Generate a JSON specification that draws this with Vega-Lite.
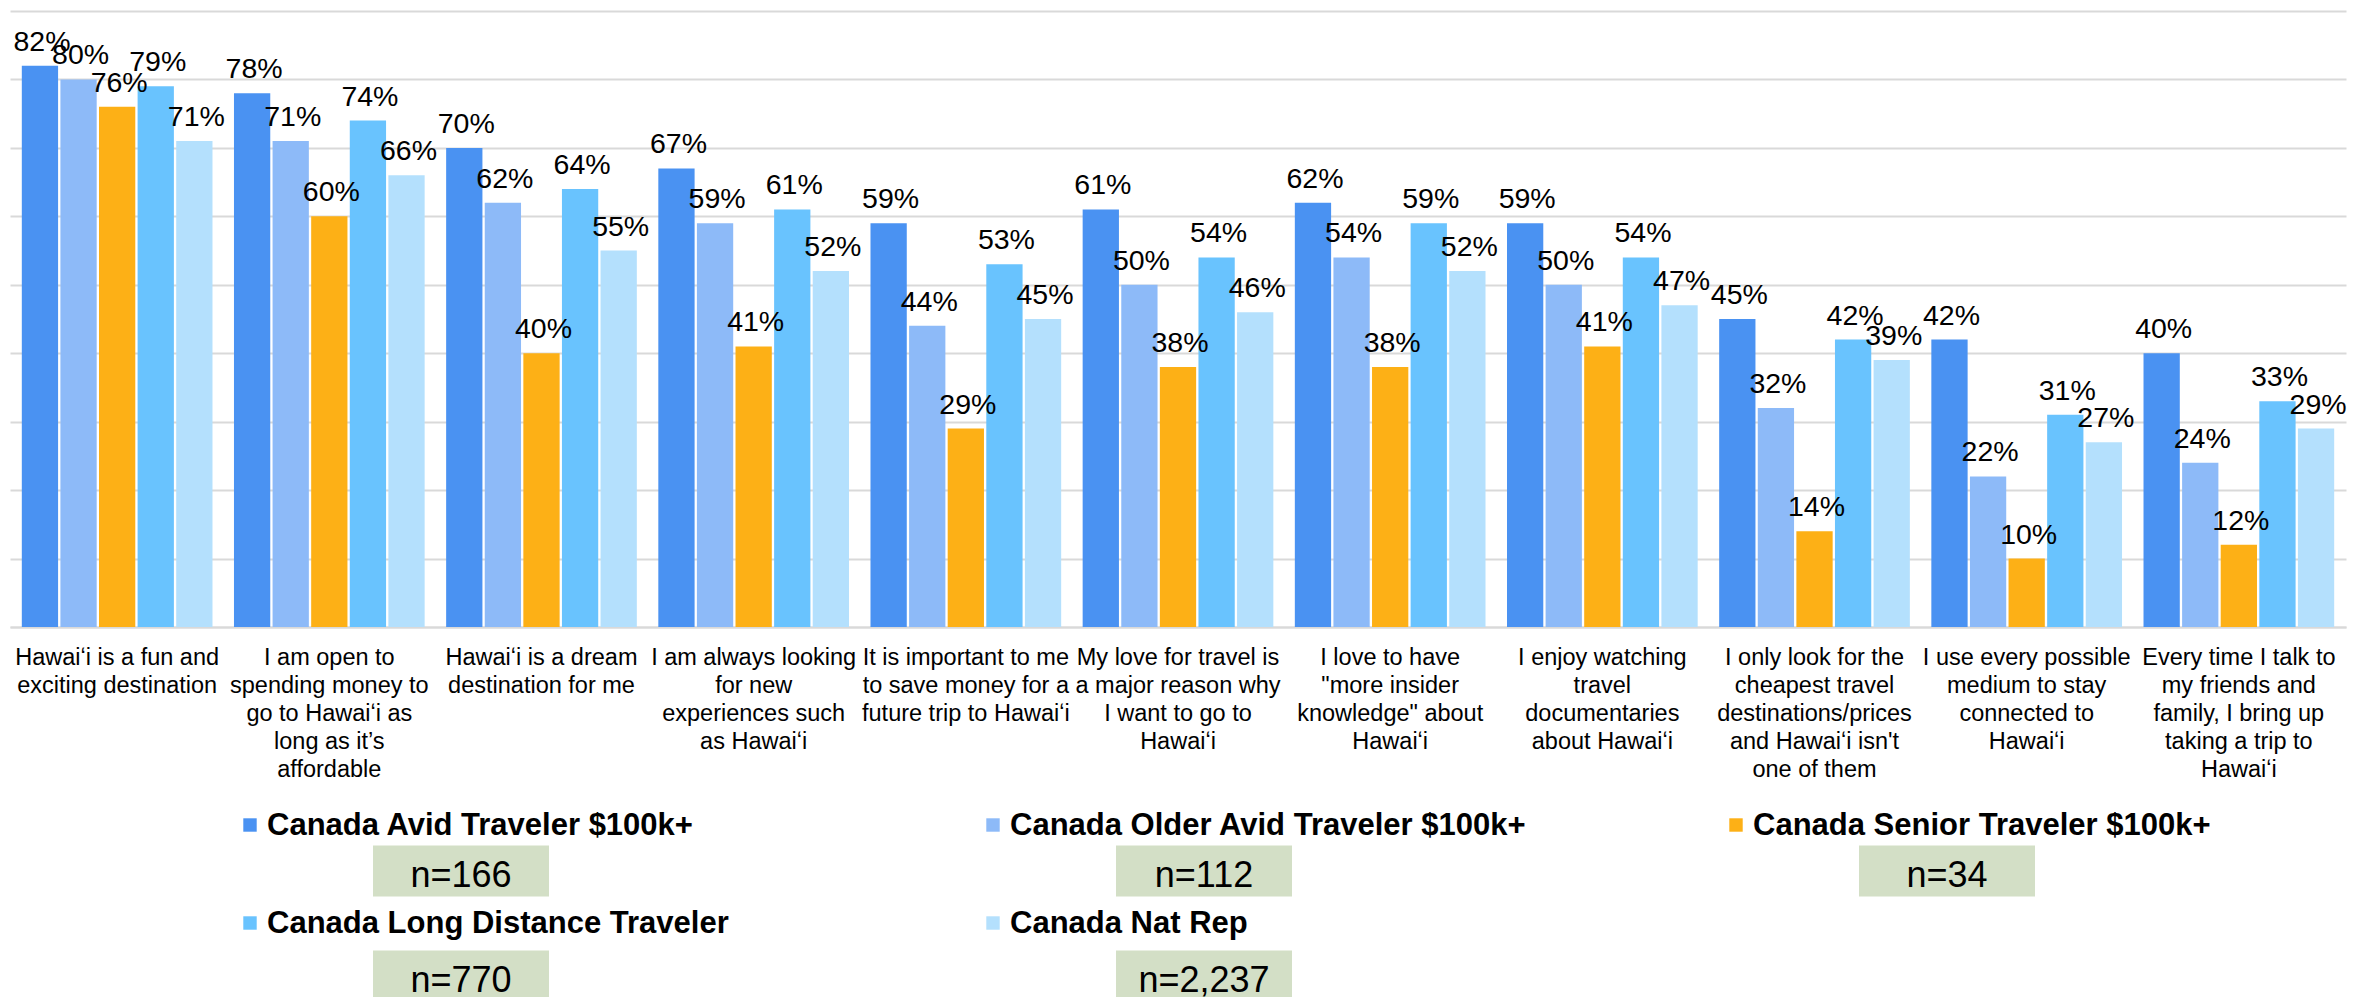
{
  "$schema": "https://vega.github.io/schema/vega-lite/v6.json",
  "width": 2336,
  "height": 616,
  "autosize": {"type": "none"},
  "padding": {"left": 10, "top": 11, "right": 34, "bottom": 370},
  "background": "white",
  "config": {"view": {"stroke": null}, "font": "Liberation Sans"},
  "datasets": {
    "bars": [
      {"cat": "Hawaiʻi is a fun and|exciting destination", "series": "Canada Avid Traveler $100k+", "value": 0.82},
      {"cat": "Hawaiʻi is a fun and|exciting destination", "series": "Canada Older Avid Traveler $100k+", "value": 0.80},
      {"cat": "Hawaiʻi is a fun and|exciting destination", "series": "Canada Senior Traveler $100k+", "value": 0.76},
      {"cat": "Hawaiʻi is a fun and|exciting destination", "series": "Canada Long Distance Traveler", "value": 0.79},
      {"cat": "Hawaiʻi is a fun and|exciting destination", "series": "Canada Nat Rep", "value": 0.71},
      {"cat": "I am open to|spending money to|go to Hawaiʻi as|long as it’s|affordable", "series": "Canada Avid Traveler $100k+", "value": 0.78},
      {"cat": "I am open to|spending money to|go to Hawaiʻi as|long as it’s|affordable", "series": "Canada Older Avid Traveler $100k+", "value": 0.71},
      {"cat": "I am open to|spending money to|go to Hawaiʻi as|long as it’s|affordable", "series": "Canada Senior Traveler $100k+", "value": 0.60},
      {"cat": "I am open to|spending money to|go to Hawaiʻi as|long as it’s|affordable", "series": "Canada Long Distance Traveler", "value": 0.74},
      {"cat": "I am open to|spending money to|go to Hawaiʻi as|long as it’s|affordable", "series": "Canada Nat Rep", "value": 0.66},
      {"cat": "Hawaiʻi is a dream|destination for me", "series": "Canada Avid Traveler $100k+", "value": 0.70},
      {"cat": "Hawaiʻi is a dream|destination for me", "series": "Canada Older Avid Traveler $100k+", "value": 0.62},
      {"cat": "Hawaiʻi is a dream|destination for me", "series": "Canada Senior Traveler $100k+", "value": 0.40},
      {"cat": "Hawaiʻi is a dream|destination for me", "series": "Canada Long Distance Traveler", "value": 0.64},
      {"cat": "Hawaiʻi is a dream|destination for me", "series": "Canada Nat Rep", "value": 0.55},
      {"cat": "I am always looking|for new|experiences such|as Hawaiʻi", "series": "Canada Avid Traveler $100k+", "value": 0.67},
      {"cat": "I am always looking|for new|experiences such|as Hawaiʻi", "series": "Canada Older Avid Traveler $100k+", "value": 0.59},
      {"cat": "I am always looking|for new|experiences such|as Hawaiʻi", "series": "Canada Senior Traveler $100k+", "value": 0.41},
      {"cat": "I am always looking|for new|experiences such|as Hawaiʻi", "series": "Canada Long Distance Traveler", "value": 0.61},
      {"cat": "I am always looking|for new|experiences such|as Hawaiʻi", "series": "Canada Nat Rep", "value": 0.52},
      {"cat": "It is important to me|to save money for a|future trip to Hawaiʻi", "series": "Canada Avid Traveler $100k+", "value": 0.59},
      {"cat": "It is important to me|to save money for a|future trip to Hawaiʻi", "series": "Canada Older Avid Traveler $100k+", "value": 0.44},
      {"cat": "It is important to me|to save money for a|future trip to Hawaiʻi", "series": "Canada Senior Traveler $100k+", "value": 0.29},
      {"cat": "It is important to me|to save money for a|future trip to Hawaiʻi", "series": "Canada Long Distance Traveler", "value": 0.53},
      {"cat": "It is important to me|to save money for a|future trip to Hawaiʻi", "series": "Canada Nat Rep", "value": 0.45},
      {"cat": "My love for travel is|a major reason why|I want to go to|Hawaiʻi", "series": "Canada Avid Traveler $100k+", "value": 0.61},
      {"cat": "My love for travel is|a major reason why|I want to go to|Hawaiʻi", "series": "Canada Older Avid Traveler $100k+", "value": 0.50},
      {"cat": "My love for travel is|a major reason why|I want to go to|Hawaiʻi", "series": "Canada Senior Traveler $100k+", "value": 0.38},
      {"cat": "My love for travel is|a major reason why|I want to go to|Hawaiʻi", "series": "Canada Long Distance Traveler", "value": 0.54},
      {"cat": "My love for travel is|a major reason why|I want to go to|Hawaiʻi", "series": "Canada Nat Rep", "value": 0.46},
      {"cat": "I love to have|\"more insider|knowledge\" about|Hawaiʻi", "series": "Canada Avid Traveler $100k+", "value": 0.62},
      {"cat": "I love to have|\"more insider|knowledge\" about|Hawaiʻi", "series": "Canada Older Avid Traveler $100k+", "value": 0.54},
      {"cat": "I love to have|\"more insider|knowledge\" about|Hawaiʻi", "series": "Canada Senior Traveler $100k+", "value": 0.38},
      {"cat": "I love to have|\"more insider|knowledge\" about|Hawaiʻi", "series": "Canada Long Distance Traveler", "value": 0.59},
      {"cat": "I love to have|\"more insider|knowledge\" about|Hawaiʻi", "series": "Canada Nat Rep", "value": 0.52},
      {"cat": "I enjoy watching|travel|documentaries|about Hawaiʻi", "series": "Canada Avid Traveler $100k+", "value": 0.59},
      {"cat": "I enjoy watching|travel|documentaries|about Hawaiʻi", "series": "Canada Older Avid Traveler $100k+", "value": 0.50},
      {"cat": "I enjoy watching|travel|documentaries|about Hawaiʻi", "series": "Canada Senior Traveler $100k+", "value": 0.41},
      {"cat": "I enjoy watching|travel|documentaries|about Hawaiʻi", "series": "Canada Long Distance Traveler", "value": 0.54},
      {"cat": "I enjoy watching|travel|documentaries|about Hawaiʻi", "series": "Canada Nat Rep", "value": 0.47},
      {"cat": "I only look for the|cheapest travel|destinations/prices|and Hawaiʻi isn't|one of them", "series": "Canada Avid Traveler $100k+", "value": 0.45},
      {"cat": "I only look for the|cheapest travel|destinations/prices|and Hawaiʻi isn't|one of them", "series": "Canada Older Avid Traveler $100k+", "value": 0.32},
      {"cat": "I only look for the|cheapest travel|destinations/prices|and Hawaiʻi isn't|one of them", "series": "Canada Senior Traveler $100k+", "value": 0.14},
      {"cat": "I only look for the|cheapest travel|destinations/prices|and Hawaiʻi isn't|one of them", "series": "Canada Long Distance Traveler", "value": 0.42},
      {"cat": "I only look for the|cheapest travel|destinations/prices|and Hawaiʻi isn't|one of them", "series": "Canada Nat Rep", "value": 0.39},
      {"cat": "I use every possible|medium to stay|connected to|Hawaiʻi", "series": "Canada Avid Traveler $100k+", "value": 0.42},
      {"cat": "I use every possible|medium to stay|connected to|Hawaiʻi", "series": "Canada Older Avid Traveler $100k+", "value": 0.22},
      {"cat": "I use every possible|medium to stay|connected to|Hawaiʻi", "series": "Canada Senior Traveler $100k+", "value": 0.10},
      {"cat": "I use every possible|medium to stay|connected to|Hawaiʻi", "series": "Canada Long Distance Traveler", "value": 0.31},
      {"cat": "I use every possible|medium to stay|connected to|Hawaiʻi", "series": "Canada Nat Rep", "value": 0.27},
      {"cat": "Every time I talk to|my friends and|family, I bring up|taking a trip to|Hawaiʻi", "series": "Canada Avid Traveler $100k+", "value": 0.40},
      {"cat": "Every time I talk to|my friends and|family, I bring up|taking a trip to|Hawaiʻi", "series": "Canada Older Avid Traveler $100k+", "value": 0.24},
      {"cat": "Every time I talk to|my friends and|family, I bring up|taking a trip to|Hawaiʻi", "series": "Canada Senior Traveler $100k+", "value": 0.12},
      {"cat": "Every time I talk to|my friends and|family, I bring up|taking a trip to|Hawaiʻi", "series": "Canada Long Distance Traveler", "value": 0.33},
      {"cat": "Every time I talk to|my friends and|family, I bring up|taking a trip to|Hawaiʻi", "series": "Canada Nat Rep", "value": 0.29}
    ],
    "legend": [
      {"series": "Canada Avid Traveler $100k+", "n": "n=166", "lc": 0, "lr": 0},
      {"series": "Canada Older Avid Traveler $100k+", "n": "n=112", "lc": 1, "lr": 0},
      {"series": "Canada Senior Traveler $100k+", "n": "n=34", "lc": 2, "lr": 0},
      {"series": "Canada Long Distance Traveler", "n": "n=770", "lc": 0, "lr": 1},
      {"series": "Canada Nat Rep", "n": "n=2,237", "lc": 1, "lr": 1}
    ]
  },
  "layer": [
    {
      "data": {"name": "bars"},
      "encoding": {
        "x": {
          "field": "cat", "type": "nominal", "sort": null,
          "scale": {"paddingInner": 0.094, "paddingOuter": 0.052},
          "axis": {
            "title": null, "labelAngle": 0, "labelExpr": "split(datum.label, '|')",
            "labelFont": "Liberation Sans", "labelFontSize": 23.5, "labelLineHeight": 28,
            "labelColor": "black", "labelPadding": 18, "labelBaseline": "top",
            "labelLimit": 0, "labelOverlap": false, "labelBound": false,
            "ticks": false, "tickSize": 0, "domainColor": "#D9D9D9", "domainWidth": 2, "grid": false
          }
        },
        "xOffset": {
          "field": "series", "type": "nominal",
          "scale": {"domain": ["Canada Avid Traveler $100k+", "Canada Older Avid Traveler $100k+", "Canada Senior Traveler $100k+", "Canada Long Distance Traveler", "Canada Nat Rep"], "paddingInner": 0.06, "paddingOuter": 0.02}
        },
        "y": {
          "field": "value", "type": "quantitative",
          "scale": {"domain": [0, 0.9], "nice": false, "zero": true},
          "axis": {"title": null, "values": [0, 0.1, 0.2, 0.3, 0.4, 0.5, 0.6, 0.7, 0.8, 0.9], "labels": false, "ticks": false, "domain": false, "grid": true, "gridColor": "#D9D9D9", "gridWidth": 2}
        }
      },
      "layer": [
        {
          "mark": {"type": "bar"},
          "encoding": {
            "color": {
              "field": "series", "type": "nominal",
              "scale": {"domain": ["Canada Avid Traveler $100k+", "Canada Older Avid Traveler $100k+", "Canada Senior Traveler $100k+", "Canada Long Distance Traveler", "Canada Nat Rep"], "range": ["#4A92F2", "#8DBAF8", "#FDB016", "#69C3FE", "#B4E0FD"]},
              "legend": null
            }
          }
        },
        {
          "mark": {"type": "text", "align": "center", "baseline": "alphabetic", "dx": 2, "dy": -15, "fontSize": 28.5, "font": "Liberation Sans", "color": "black"},
          "encoding": {"text": {"field": "value", "type": "quantitative", "format": ".0%"}}
        }
      ]
    },
    {
      "data": {"name": "legend"},
      "encoding": {
        "x": {"field": "lc", "type": "quantitative", "scale": {"domain": [0, 2], "range": [240, 1726], "zero": false, "nice": false}, "axis": null},
        "y": {"field": "lr", "type": "quantitative", "scale": {"domain": [0, 1], "range": [814, 912], "zero": false, "nice": false}, "axis": null}
      },
      "layer": [
        {
          "mark": {"type": "point", "shape": "square", "filled": true, "size": 180, "opacity": 1},
          "encoding": {
            "color": {"field": "series", "type": "nominal", "legend": null}
          }
        },
        {
          "mark": {"type": "text", "align": "left", "baseline": "alphabetic", "dx": 17, "dy": 10, "fontSize": 31, "fontWeight": "bold", "font": "Liberation Sans", "color": "black"},
          "encoding": {"text": {"field": "series", "type": "nominal"}}
        }
      ]
    },
    {
      "data": {"name": "legend"},
      "encoding": {
        "x": {"field": "lc", "type": "quantitative", "scale": {"domain": [0, 2], "range": [240, 1726], "zero": false, "nice": false}, "axis": null},
        "y": {"field": "lr", "type": "quantitative", "scale": {"domain": [0, 1], "range": [859.5, 964.5], "zero": false, "nice": false}, "axis": null}
      },
      "layer": [
        {
          "mark": {"type": "rect", "color": "#D3DFC6", "xOffset": 123, "x2Offset": 299, "yOffset": -25, "y2Offset": 26},
          "encoding": {"x2": {"field": "lc"}, "y2": {"field": "lr"}}
        },
        {
          "mark": {"type": "text", "align": "center", "baseline": "alphabetic", "dx": 211, "dy": 16.5, "fontSize": 36, "font": "Liberation Sans", "color": "black"},
          "encoding": {"text": {"field": "n", "type": "nominal"}}
        }
      ]
    }
  ],
  "resolve": {"scale": {"x": "independent", "y": "independent"}}
}
